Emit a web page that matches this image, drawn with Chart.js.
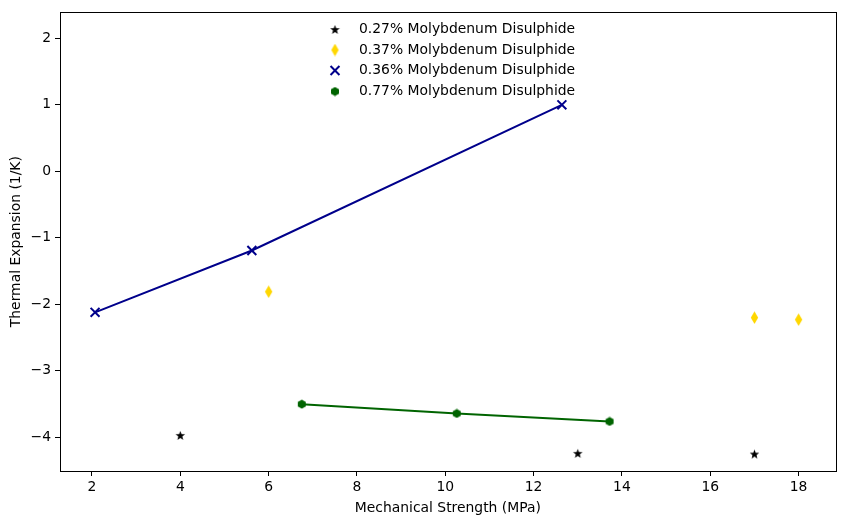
<!DOCTYPE html>
<html>
<head>
<meta charset="utf-8">
<script src="https://cdn.jsdelivr.net/npm/chart.js@4.4.0/dist/chart.umd.min.js"></script>
<style>
  html, body { margin: 0; padding: 0; background: #fff; }
  #wrap { width: 844px; height: 525px; }
</style>
</head>
<body>
<div id="wrap"><canvas id="plot" width="844" height="525"></canvas></div>
<script>
// series
const labels = [
  "0.27% Molybdenum Disulphide",
  "0.37% Molybdenum Disulphide",
  "0.36% Molybdenum Disulphide",
  "0.77% Molybdenum Disulphide"
];
const starX = [4, 13, 17];
const starY = [-3.97, -4.24, -4.25];
const diamondX = [6, 17, 18];
const diamondY = [-1.81, -2.2, -2.23];
const crossX = [2.07, 5.62, 12.64];
const crossY = [-2.12, -1.19, 1.0];
const hexX = [6.75, 10.26, 13.72];
const hexY = [-3.5, -3.64, -3.76];

const xTicks = [2, 4, 6, 8, 10, 12, 14, 16, 18];
const yTicks = [-4, -3, -2, -1, 0, 1, 2];

const pts = (xs, ys) => xs.map((x, i) => ({ x: x, y: ys[i] }));

// little marker images (matplotlib-like star, thin diamond, hexagon)
function markerCanvas(w, h, color, draw) {
  const c = document.createElement("canvas");
  c.width = w; c.height = h;
  const g = c.getContext("2d");
  g.fillStyle = color;
  g.beginPath();
  draw(g, w, h);
  g.closePath();
  g.fill();
  return c;
}
const starImg = markerCanvas(11, 11, "#000000", (g, w, h) => {
  const cx = w / 2, cy = h / 2 + 0.4, R = 5, r = 2.1;
  for (let i = 0; i < 10; i++) {
    const a = -Math.PI / 2 + i * Math.PI / 5;
    const rr = i % 2 === 0 ? R : r;
    g.lineTo(cx + rr * Math.cos(a), cy + rr * Math.sin(a));
  }
});
const diamondImg = markerCanvas(9, 13, "#FFD700", (g, w, h) => {
  g.moveTo(w / 2, 0.3);
  g.lineTo(w - 0.8, h / 2);
  g.lineTo(w / 2, h - 0.3);
  g.lineTo(0.8, h / 2);
});
const hexImg = markerCanvas(10, 10, "#006400", (g, w, h) => {
  for (let i = 0; i < 6; i++) {
    const a = -Math.PI / 2 + i * Math.PI / 3;
    g.lineTo(w / 2 + 4.6 * Math.cos(a), h / 2 + 4.6 * Math.sin(a));
  }
});

const font = { family: "'DejaVu Sans', sans-serif", size: 13.9 };
const fmt = v => String(v).replace("-", "\u2212");

// axes frame + legend the matplotlib way
const framePlugin = {
  id: "frame",
  afterDatasetsDraw(chart) {
    const { ctx, chartArea: a } = chart;
    ctx.save();
    ctx.strokeStyle = "#000";
    ctx.lineWidth = 1;
    ctx.strokeRect(Math.round(a.left) + 0.5, Math.round(a.top) + 0.5,
      Math.round(a.right - a.left), Math.round(a.bottom - a.top));
    ctx.restore();
  },
  afterDraw(chart) {
    const ctx = chart.ctx;
    ctx.save();
    ctx.font = "13.9px 'DejaVu Sans', sans-serif";
    ctx.textBaseline = "middle";
    ctx.fillStyle = "#000";
    const rowsY = [29.5, 50, 70.5, 91.5];
    chart.data.datasets.forEach((ds, i) => {
      const y = rowsY[i];
      ctx.save();
      ctx.strokeStyle = ds.pointBorderColor || ds.borderColor;
      ctx.fillStyle = ds.pointBackgroundColor || ds.backgroundColor;
      ctx.lineWidth = ds.pointBorderWidth || 1;
      Chart.helpers.drawPoint(ctx, {
        pointStyle: ds.pointStyle, radius: ds.pointRadius,
        borderWidth: ds.pointBorderWidth || 1, rotation: 0
      }, 335, y);
      ctx.restore();
      ctx.fillStyle = "#000";
      ctx.fillText(ds.label, 359, y);
    });
    ctx.restore();
  }
};

new Chart(document.getElementById("plot"), {
  type: "scatter",
  data: {
    datasets: [
      { label: labels[0], data: pts(starX, starY), pointStyle: starImg, pointRadius: 5,
        backgroundColor: "#000", borderColor: "#000", showLine: false },
      { label: labels[1], data: pts(diamondX, diamondY), pointStyle: diamondImg, pointRadius: 5,
        backgroundColor: "#FFD700", borderColor: "#FFD700", showLine: false },
      { label: labels[2], data: pts(crossX, crossY), pointStyle: "crossRot", pointRadius: 6.3,
        pointBorderWidth: 2, borderColor: "#00008B", backgroundColor: "#00008B",
        pointBorderColor: "#00008B", showLine: true, borderWidth: 2 },
      { label: labels[3], data: pts(hexX, hexY), pointStyle: hexImg, pointRadius: 5,
        borderColor: "#006400", backgroundColor: "#006400", showLine: true, borderWidth: 2 }
    ]
  },
  options: {
    responsive: false,
    animation: false,
    events: [],
    layout: { padding: { left: 0, right: 8, top: 11, bottom: 0 } },
    plugins: { legend: { display: false }, tooltip: { enabled: false } },
    scales: {
      x: {
        type: "linear", min: 1.276, max: 18.84,
        afterBuildTicks: s => { s.ticks = xTicks.map(v => ({ value: v })); },
        afterFit: s => { s.height = 54; },
        grid: { display: true, drawOnChartArea: false, drawTicks: true, tickLength: 5, color: "#000" },
        border: { display: false },
        ticks: { color: "#000", font: font, padding: 3, maxRotation: 0, callback: v => fmt(v) },
        title: { display: true, text: "Mechanical Strength (MPa)", color: "#000", font: font,
          padding: { top: 0, bottom: 8.5 } }
      },
      y: {
        type: "linear", min: -4.505, max: 2.39,
        afterBuildTicks: s => { s.ticks = yTicks.map(v => ({ value: v })); },
        afterFit: s => { s.width = 60; },
        grid: { display: true, drawOnChartArea: false, drawTicks: true, tickLength: 5, color: "#000" },
        border: { display: false },
        ticks: { color: "#000", font: font, padding: 4, callback: v => fmt(v) },
        title: { display: true, text: "Thermal Expansion (1/K)", color: "#000", font: font,
          padding: { top: 8, bottom: 0 } }
      }
    }
  },
  plugins: [framePlugin]
});
</script>
</body>
</html>
